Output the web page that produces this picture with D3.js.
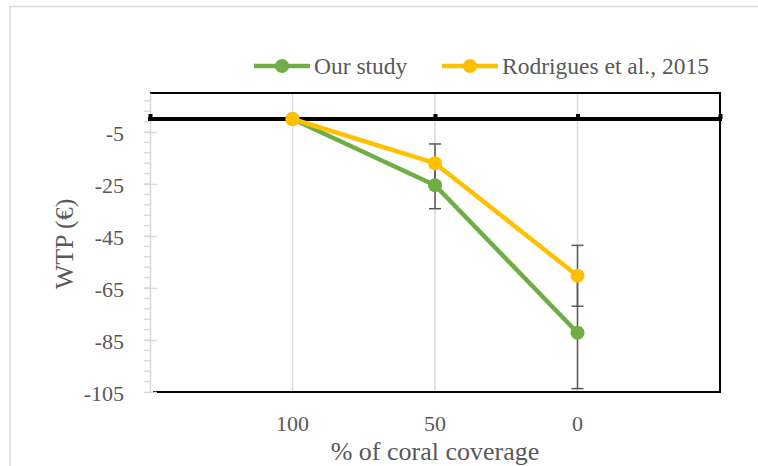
<html>
<head>
  <script src="https://d3js.org/d3.v7.min.js"></script>
  <style>
    body { margin: 0; background: #fff; }
    text { font-family: "Liberation Serif", "Times New Roman", serif; fill: #595959; }
  </style>
</head>
<body>
<div id="chart"></div>
<script>
// data
var coverage = ["100", "50", "0"];
var ourStudy = [0, -25.5, -82.2];
var ourErr = [0, 9.0, 21.5];
var rodrigues = [0, -17.0, -60.3];
var rodErr = [0, 7.4, 11.7];
var yTicks = [-105, -85, -65, -45, -25, -5];
var seriesNames = ["Our study", "Rodrigues et al., 2015"];
var seriesColors = ["#70AD47", "#FFC000"];

var W = 758, H = 466;
var pLeft = 150, pRight = 720, pTop = 93, pBottom = 392;

var svg = d3.select("#chart").append("svg")
    .attr("width", W).attr("height", H);

// outer chart frame (light grey, only top and left visible)
svg.append("path")
  .attr("d", "M10,466 V6.5 H758")
  .attr("fill", "none").attr("stroke", "#d9d9d9").attr("stroke-width", 1.5);

var x = d3.scalePoint().domain(coverage).range([pLeft, pRight]).padding(1);
var xSlot = d3.scaleLinear().domain([0, 4]).range([pLeft, pRight]);
var y = d3.scaleLinear().domain([-105, 10]).range([pBottom, pTop]);

// vertical gridlines
svg.append("g").selectAll("line")
  .data(coverage).enter().append("line")
  .attr("x1", d => x(d)).attr("x2", d => x(d))
  .attr("y1", pTop).attr("y2", pBottom)
  .attr("stroke", "#d9d9d9").attr("stroke-width", 1.5);

// plot border (top, right, bottom)
svg.append("path")
  .attr("d", "M" + pLeft + "," + pTop + " H" + pRight + " V" + pBottom + " H" + (pLeft + 3))
  .attr("fill", "none").attr("stroke", "#000").attr("stroke-width", 2);

// y axis: minor ticks
var minor = d3.range(-101, 10, 4);
svg.append("g").selectAll("line")
  .data(minor).enter().append("line")
  .attr("x1", pLeft - 6).attr("x2", pLeft)
  .attr("y1", d => y(d)).attr("y2", d => y(d))
  .attr("stroke", "#d9d9d9").attr("stroke-width", 1.5);

var yAxis = svg.append("g")
  .attr("transform", "translate(" + pLeft + ",0)")
  .call(d3.axisLeft(y).tickValues(yTicks).tickFormat(d => String(d))
    .tickSizeInner(6).tickSizeOuter(0).tickPadding(20));
yAxis.select(".domain").attr("stroke", "#d9d9d9").attr("stroke-width", 1.5);
yAxis.selectAll(".tick line").attr("stroke", "#d9d9d9").attr("stroke-width", 1.5)
  .attr("x1", 7).attr("x2", -6);
yAxis.selectAll(".tick text").attr("font-size", 22).attr("fill", "#595959")
  .attr("font-family", "Liberation Serif").attr("dy", "0.4em");

// horizontal axis crossing at zero (thick black)
var xAxis = svg.append("g")
  .attr("transform", "translate(0," + y(0) + ")")
  .call(d3.axisTop(xSlot).tickValues([0, 1, 2, 3, 4]).tickFormat("").tickSizeInner(5).tickSizeOuter(0));
xAxis.select(".domain").attr("stroke", "#000").attr("stroke-width", 4)
  .attr("d", "M" + (pLeft - 2) + ",0H" + (pRight + 2));
xAxis.selectAll(".tick line").attr("stroke", "#000").attr("stroke-width", 4);

// category labels at bottom
svg.append("g").selectAll("text")
  .data(coverage).enter().append("text")
  .attr("x", d => x(d)).attr("y", 431)
  .attr("text-anchor", "middle").attr("font-size", 22)
  .text(d => d);

// axis titles
svg.append("text")
  .attr("x", 435).attr("y", 460)
  .attr("text-anchor", "middle").attr("font-size", 26)
  .text("% of coral coverage");
svg.append("text")
  .attr("transform", "translate(73,244) rotate(-90)")
  .attr("text-anchor", "middle").attr("font-size", 26)
  .text("WTP (€)");

var series = [
  { name: seriesNames[0], color: seriesColors[0], vals: ourStudy, err: ourErr },
  { name: seriesNames[1], color: seriesColors[1], vals: rodrigues, err: rodErr }
];

// error bars
series.forEach(function (s) {
  var g = svg.append("g").attr("stroke", "#595959").attr("stroke-width", 1.5);
  coverage.forEach(function (c, i) {
    if (!s.err[i]) return;
    var cx = x(c), y1 = y(s.vals[i] + s.err[i]), y2 = y(s.vals[i] - s.err[i]);
    g.append("line").attr("x1", cx).attr("x2", cx).attr("y1", y1).attr("y2", y2);
    g.append("line").attr("x1", cx - 6).attr("x2", cx + 6).attr("y1", y1).attr("y2", y1);
    g.append("line").attr("x1", cx - 6).attr("x2", cx + 6).attr("y1", y2).attr("y2", y2);
  });
});

var line = d3.line().x((d, i) => x(coverage[i])).y(d => y(d));

series.forEach(function (s) {
  svg.append("path")
    .attr("d", line(s.vals))
    .attr("fill", "none").attr("stroke", s.color)
    .attr("stroke-width", 4.5).attr("stroke-linejoin", "round");
  svg.append("g").selectAll("circle")
    .data(s.vals).enter().append("circle")
    .attr("cx", (d, i) => x(coverage[i])).attr("cy", d => y(d))
    .attr("r", 7).attr("fill", s.color);
});

// legend
var legendX = [254, 442];
series.forEach(function (s, i) {
  var lx = legendX[i], ly = 66;
  svg.append("line")
    .attr("x1", lx).attr("x2", lx + 56).attr("y1", ly).attr("y2", ly)
    .attr("stroke", s.color).attr("stroke-width", 4.5);
  svg.append("circle").attr("cx", lx + 28).attr("cy", ly).attr("r", 7).attr("fill", s.color);
  svg.append("text")
    .attr("x", lx + 60).attr("y", ly + 8)
    .attr("font-size", 23.5)
    .text(s.name);
});
</script>
</body>
</html>
